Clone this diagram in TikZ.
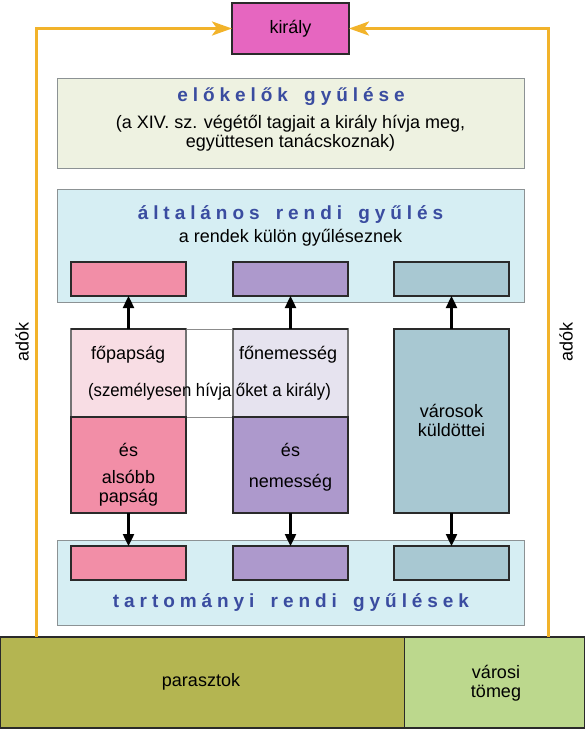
\documentclass[tikz,border=0pt]{standalone}
\usepackage{fontspec}
\usepackage{graphicx}
\setmainfont{Liberation Sans}
\newfontfamily\titlefont[LetterSpace=26]{Liberation Sans}
\usetikzlibrary{arrows.meta}
\definecolor{kingc}{HTML}{E666C0}
\definecolor{orangec}{HTML}{F2B32A}
\definecolor{elofill}{HTML}{EEF2E1}
\definecolor{bluefill}{HTML}{D6EEF3}
\definecolor{panelborder}{HTML}{8C9294}
\definecolor{titleblue}{HTML}{3A4CA0}
\definecolor{pinkc}{HTML}{F28EA7}
\definecolor{lpinkc}{HTML}{F8DDE4}
\definecolor{purpc}{HTML}{AD99CC}
\definecolor{lpurpc}{HTML}{E6E3EF}
\definecolor{steelc}{HTML}{A8C8D2}
\definecolor{olivec}{HTML}{B4B551}
\definecolor{lgreenc}{HTML}{BCD88D}
\definecolor{edgec}{HTML}{2A2A2A}
\newcommand{\wsp}{\hspace{6pt} }
\begin{document}
\begin{tikzpicture}[x=1pt,y=-1pt,
  box/.style={draw=edgec, line width=1.1pt, inner sep=0pt, outer sep=0pt, anchor=north west},
  panel/.style={draw=panelborder, line width=1pt, inner sep=0pt, outer sep=0pt, anchor=north west},
  body/.style={inner sep=0pt, font=\fontsize{18}{19}\selectfont, text=black, align=center},
  ttl/.style={inner sep=0pt, font=\titlefont\bfseries\fontsize{19}{20}\selectfont, text=titleblue},
  blk/.style={line width=2.4pt, draw=black, -{Triangle[width=11pt,length=12pt]}},
  orng/.style={line width=3pt, draw=orangec, -{Stealth[width=14pt,length=20pt,inset=5pt]}}
]
\useasboundingbox (0,0) rectangle (585,729);

% bottom strata
\node[box, fill=olivec, minimum width=404pt, minimum height=91pt] (paraszt) at (0.5,637) {};
\node[box, fill=lgreenc, minimum width=180pt, minimum height=91pt] (varosi) at (404.5,637) {};
\node[body] (parasztt) at (201,682) {parasztok};
\node[body] (varosit) at (496,683) {városi\\tömeg};

% king
\node[box, fill=kingc, minimum width=117pt, minimum height=51pt, font=\fontsize{18}{19}\selectfont] (kiraly) at (232,3) {király};

% orange tax lines
\coordinate (lb) at (36.5,637);
\coordinate (rb) at (548,637);
\draw[orng] (lb) |- (kiraly);
\draw[orng] (rb) |- (kiraly);
\node[body, rotate=90] (adol) at (22,342) {adók};
\node[body, rotate=90] (ador) at (566,342) {adók};

% elokelok
\node[panel, fill=elofill, minimum width=467pt, minimum height=90pt] (elo) at (57,78) {};
\node[ttl] (elot) at (291,97) {előkelők\wsp gyűlése};
\node[body] (elos) at (290.5,133) {(a XIV. sz. végétől tagjait a király hívja meg,\\együttesen tanácskoznak)};

% altalanos
\node[panel, fill=bluefill, minimum width=467pt, minimum height=113pt] (alt) at (57,189) {};
\node[ttl] (altt) at (290.5,215) {általános\wsp rendi\wsp gyűlés};
\node[body] (alts) at (290.5,238) {a rendek külön gyűléseznek};
\node[box, fill=pinkc, minimum width=115pt, minimum height=34pt] (pinkA) at (71,262) {};
\node[box, fill=purpc, minimum width=115pt, minimum height=34pt] (purpA) at (233,262) {};
\node[box, fill=steelc, minimum width=115pt, minimum height=34pt] (steelA) at (394,262) {};

% tartomanyi
\node[panel, fill=bluefill, minimum width=467pt, minimum height=85pt] (tart) at (57,540) {};
\node[ttl] (tartt) at (291,603) {tartományi\wsp rendi\wsp gyűlések};
\node[box, fill=pinkc, minimum width=115pt, minimum height=34pt] (pinkB) at (71,546) {};
\node[box, fill=purpc, minimum width=115pt, minimum height=34pt] (purpB) at (233,546) {};
\node[box, fill=steelc, minimum width=115pt, minimum height=34pt] (steelB) at (394,546) {};

% columns
\node[panel, fill=white, draw=black!45, minimum width=277pt, minimum height=88pt] (strip) at (71,329) {};
\node[box, fill=lpinkc, draw=black!55, minimum width=115pt, minimum height=88pt] (pinkTop) at (71,329) {};
\node[box, fill=lpurpc, draw=black!55, minimum width=115pt, minimum height=88pt] (purpTop) at (233,329) {};
\node[box, fill=pinkc, minimum width=115pt, minimum height=96pt] (pinkBot) at (71,417) {};
\node[box, fill=purpc, minimum width=115pt, minimum height=96pt] (purpBot) at (233,417) {};
\node[box, fill=steelc, minimum width=115pt, minimum height=184pt] (steelCol) at (394,329) {};
\draw[edgec, line width=1.1pt] (pinkTop.north west) -- (pinkTop.north east);
\draw[edgec, line width=1.1pt] (purpTop.north west) -- (purpTop.north east);

\node[body, anchor=west] (fopap) at (91,355) {főpapság};
\node[body, anchor=west] (fonem) at (239,355) {főnemesség};
\node[body] (szem) at (209.5,392) {\scalebox{0.93}[1]{(személyesen hívja őket a király)}};
\node[body] (es1) at (128.5,450) {és};
\node[body] (also) at (128.5,488) {alsóbb\\papság};
\node[body] (es2) at (290.5,450) {és};
\node[body] (nemes) at (290.5,483) {nemesség};
\node[body] (varos) at (451.5,420) {városok\\küldöttei};

% arrows
\draw[blk] (pinkTop.north) -- (pinkA.south);
\draw[blk] (purpTop.north) -- (purpA.south);
\draw[blk] (steelCol.north) -- (steelA.south);
\draw[blk] (pinkBot.south) -- (pinkB.north);
\draw[blk] (purpBot.south) -- (purpB.north);
\draw[blk] (steelCol.south) -- (steelB.north);
\end{tikzpicture}
\end{document}
